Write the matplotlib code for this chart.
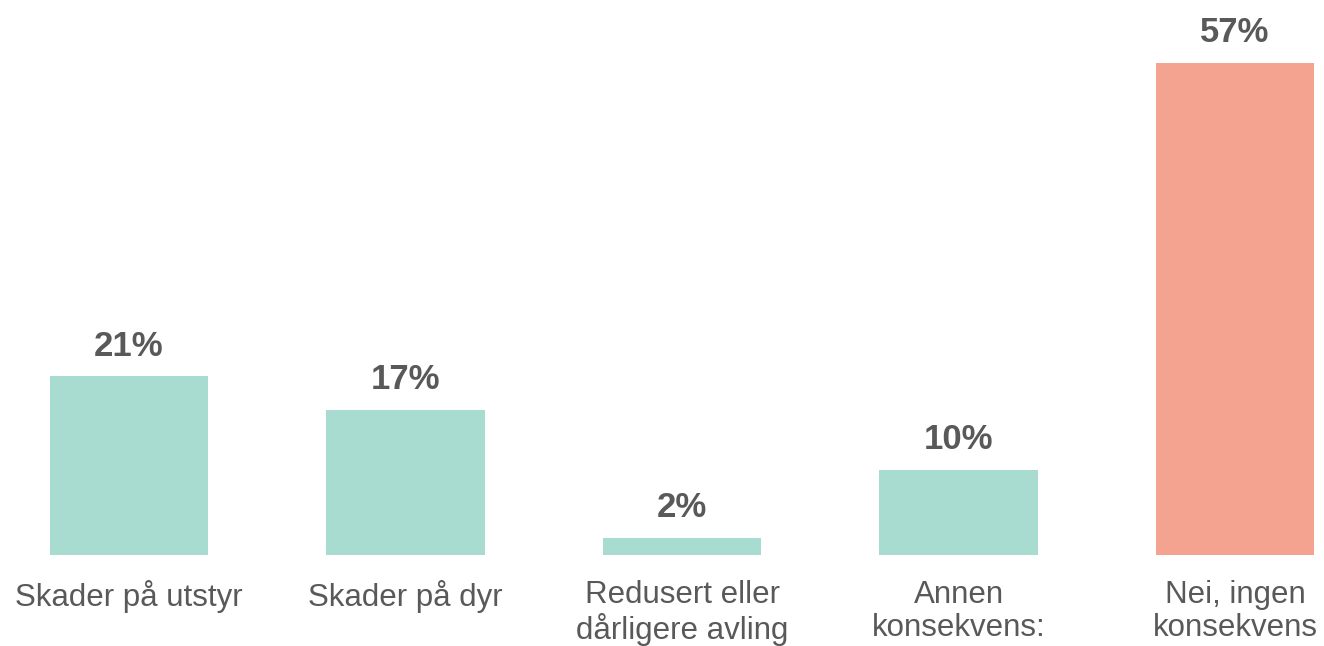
import matplotlib
matplotlib.use("Agg")
import matplotlib.pyplot as plt

plt.rcParams['font.family'] = ['Liberation Sans', 'DejaVu Sans']

categories = ["Skader på utstyr", "Skader på dyr", "Redusert eller\ndårligere avling",
              "Annen\nkonsekvens:", "Nei, ingen\nkonsekvens"]
values = [20.7, 16.8, 2.0, 9.9, 57.0]
labels = ["21%", "17%", "2%", "10%", "57%"]
colors = ["#A9DCD1", "#A9DCD1", "#A9DCD1", "#A9DCD1", "#F5A391"]
text_col = "#595959"

W, H = 1324, 646
fig = plt.figure(figsize=(W / 100, H / 100), dpi=100)
ax = fig.add_axes([0, 91 / H, 1, 555 / H])

x = range(len(values))
bars = ax.bar(x, values, width=0.572, color=colors)

# value labels above bars
for b, v, lab in zip(bars, values, labels):
    ax.text(b.get_x() + b.get_width() / 2, v + 2.4, lab,
            ha="center", va="baseline", fontsize=25, fontweight="bold", color=text_col)

ax.set_xlim(-129 / 276.5, (W - 129) / 276.5)
ax.set_ylim(0, 555 / 8.63)
ax.set_xticks(list(x))
ax.set_xticklabels(categories, fontsize=22.5, color=text_col, linespacing=1.12, va="top")
ax.tick_params(axis="x", length=0, pad=18)
ax.set_yticks([])
for s in ax.spines.values():
    s.set_visible(False)

fig.savefig("out.png", dpi=100)
